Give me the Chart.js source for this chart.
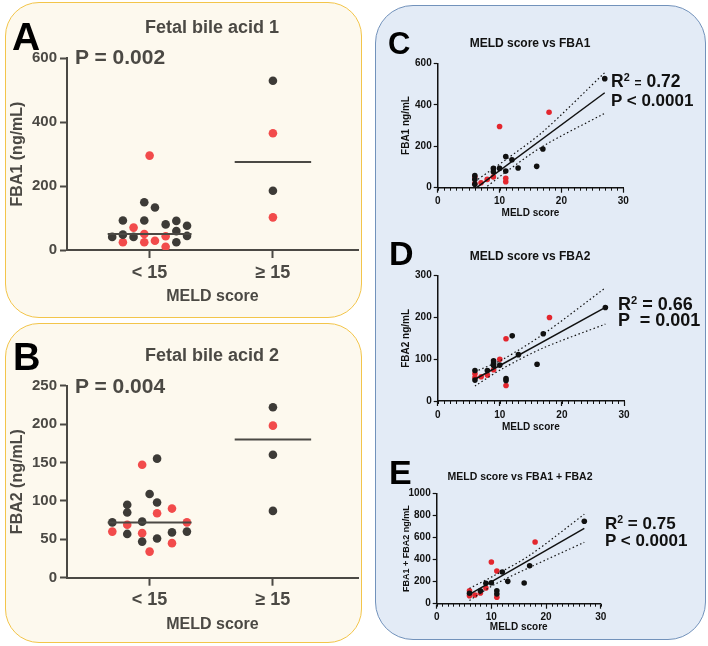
<!DOCTYPE html>
<html><head><meta charset="utf-8">
<script src="https://cdn.jsdelivr.net/npm/chart.js@4.4.1/dist/chart.umd.min.js"></script>
<style>
body{margin:0;width:708px;height:646px;position:relative;background:#fff;overflow:hidden;font-family:"Liberation Sans",Arial,sans-serif;font-weight:bold}
.panel{position:absolute;box-sizing:border-box}
canvas{position:absolute}
.t{position:absolute;white-space:nowrap;line-height:1;font-weight:bold}
.c{text-align:center}
.sup{font-size:0.62em;position:relative;top:-0.55em}
</style></head><body>
<div class="panel" style="left:5px;top:2px;width:357px;height:316px;border:1.5px solid #f3c54a;background:#fdf9ee;border-radius:34px"></div>
<div class="panel" style="left:5px;top:323px;width:357px;height:320px;border:1.5px solid #f3c54a;background:#fdf9ee;border-radius:34px"></div>
<div class="panel" style="left:375px;top:5px;width:331px;height:635px;border:1.5px solid #7292bb;background:#e3ebf6;border-radius:38px"></div>

<canvas id="cA" width="365" height="320" style="left:0;top:0"></canvas>
<canvas id="cB" width="365" height="326" style="left:0;top:320px"></canvas>
<canvas id="cC" width="328" height="225" style="left:380px;top:0"></canvas>
<canvas id="cD" width="328" height="215" style="left:380px;top:225px"></canvas>
<canvas id="cE" width="328" height="206" style="left:380px;top:440px"></canvas>

<div class="t" style="left:12px;top:17px;font-size:39px;color:#000">A</div>
<div class="t c" style="left:112px;top:18px;width:200px;font-size:18px;color:#4b4944">Fetal bile acid 1</div>
<div class="t" style="left:75px;top:46px;font-size:21px;color:#4b4944">P = 0.002</div>

<div class="t" style="left:13px;top:338px;font-size:38px;color:#000">B</div>
<div class="t c" style="left:112px;top:346px;width:200px;font-size:18px;color:#4b4944">Fetal bile acid 2</div>
<div class="t" style="left:75px;top:375px;font-size:21px;color:#4b4944">P = 0.004</div>

<div class="t" style="left:388px;top:28px;font-size:31px;color:#000">C</div>
<div class="t c" style="left:430px;top:37px;width:200px;font-size:12px;color:#111">MELD score vs FBA1</div>
<div class="t" style="left:611px;top:73px;font-size:17.5px;color:#111">R<span class="sup">2</span> <span style="font-size:12px">=</span> 0.72</div>
<div class="t" style="left:611px;top:92px;font-size:17px;color:#111">P &lt; 0.0001</div>

<div class="t" style="left:389px;top:236px;font-size:34px;color:#000">D</div>
<div class="t c" style="left:430px;top:250px;width:200px;font-size:12px;color:#111">MELD score vs FBA2</div>
<div class="t" style="left:618px;top:295px;font-size:18px;color:#111">R<span class="sup">2</span> = 0.66</div>
<div class="t" style="left:618px;top:311px;font-size:18px;color:#111;white-space:pre">P  = 0.001</div>

<div class="t" style="left:389px;top:455px;font-size:34px;color:#000">E</div>
<div class="t c" style="left:420px;top:471px;width:200px;font-size:10.5px;color:#111">MELD score vs FBA1 + FBA2</div>
<div class="t" style="left:605px;top:515px;font-size:17px;color:#111">R<span class="sup">2</span> = 0.75</div>
<div class="t" style="left:605px;top:532px;font-size:17px;color:#111">P &lt; 0.0001</div>

<script>
// ---------- DATA ----------
const categories = ['< 15', '\u2265 15'];

// Panel A: FBA1 (ng/mL) by MELD group
const fba1LowBlack = [41, 92, 48, 41, 149, 92, 133, 80, 91, 59, 24, 76, 44];
const fba1LowBlackJitter = [-3.5, -2.5, -2.5, -1.5, -0.5, -0.5, 0.5, 1.5, 2.5, 2.5, 2.5, 3.5, 3.5];
const fba1LowRed = [24, 70, 50, 24, 295, 29, 43, 10];
const fba1LowRedJitter = [-2.5, -1.5, -0.5, -0.5, 0, 0.5, 1.5, 1.5];
const fba1HighBlack = [529, 185];
const fba1HighRed = [365, 102];
const fba1Medians = [50, 275];

// Panel B: FBA2 (ng/mL) by MELD group
const fba2LowBlack = [72, 95, 85, 57, 73, 47, 109, 155, 98, 51, 59, 60];
const fba2LowBlackJitter = [-2.5, -1.5, -1.5, -1.5, -0.5, -0.5, 0, 0.5, 0.5, 0.5, 1.5, 2.5];
const fba2LowRed = [60, 69, 147, 58, 34, 84, 90, 45, 72];
const fba2LowRedJitter = [-2.5, -1.5, -0.5, -0.5, 0, 0.5, 1.5, 1.5, 2.5];
const fba2HighBlack = [222, 160, 87];
const fba2HighRed = [198];
const fba2Medians = [72, 180];

// Panel C: MELD score vs FBA1 [MELD, ng/mL]
const meldFba1Black = [[27,526],[17,187],[11,150],[12,135],[16,103],[13,95],[10,93],[9,93],[9,77],[11,80],[6,58],[6,40],[6,17]];
const meldFba1Red = [[18,364],[10,295],[9,52],[8,40],[11,45],[11,29],[7,24],[6,52],[6,20]];
const fitFba1 = [[6,-6],[27,458]];
const fitFba1Upper = [[6,30],[11,135],[17,270],[27,555]];
const fitFba1Lower = [[6,-40],[11,75],[17,200],[27,359]];

// Panel D: MELD score vs FBA2
const meldFba2Black = [[27,224],[17,161],[12,156],[13,111],[10,86],[16,88],[9,96],[9,90],[9,85],[8,73],[6,73],[6,50],[11,54],[11,49]];
const meldFba2Red = [[18,200],[11,149],[10,100],[9,75],[8,62],[7,58],[6,65],[6,56],[11,37]];
const fitFba2 = [[6,52],[27,224]];
const fitFba2Upper = [[6,70],[10.5,100],[17,160],[27,271]];
const fitFba2Lower = [[6,36],[10.5,78],[17,127],[27,184]];

// Panel E: MELD score vs FBA1 + FBA2
const meldSumBlack = [[27,749],[17,345],[12,288],[13,203],[16,188],[9,185],[10,190],[8,118],[11,118],[11,88],[6,95]];
const meldSumRed = [[18,561],[10,379],[11,297],[9,143],[8,97],[7,79],[6,118],[6,73],[11,58]];
const fitSum = [[6,85],[27,685]];
const fitSumUpper = [[6,140],[10.5,255],[17,440],[27,813]];
const fitSumLower = [[6,30],[10.5,172],[17,330],[27,558]];

// ---------- RENDERING ----------
Chart.defaults.font.family = '"Liberation Sans", Arial, sans-serif';
Chart.defaults.font.weight = 'bold';

const minorTicks = {
  id: 'minorTicks',
  afterDraw(chart, args, opts) {
    if (!opts || !opts.step) return;
    const xs = chart.scales.x, ctx = chart.ctx, y0 = chart.chartArea.bottom;
    ctx.save(); ctx.strokeStyle = opts.color; ctx.lineWidth = 1;
    for (let v = xs.min; v <= xs.max + 1e-9; v += opts.step) {
      const px = Math.round(xs.getPixelForValue(v)) + 0.5;
      ctx.beginPath(); ctx.moveTo(px, y0); ctx.lineTo(px, y0 + opts.len); ctx.stroke();
    }
    ctx.restore();
  }
};

function build(id, box, area, xOpts, yOpts, datasets, plugOpts) {
  const xh = box.top + box.height - area.bottom;
  const yw = area.left - box.left;
  xOpts.afterFit = s => { s.height = xh; };
  yOpts.afterFit = s => { s.width = yw; };
  return new Chart(document.getElementById(id), {
    type: 'scatter',
    data: { datasets },
    options: {
      responsive: false, animation: false, devicePixelRatio: 1,
      layout: { padding: { left: 0, bottom: 0, top: area.top - box.top, right: box.left + box.width - area.right } },
      plugins: Object.assign({ legend: { display: false }, tooltip: { enabled: false } }, plugOpts || {}),
      scales: { x: xOpts, y: yOpts }
    },
    plugins: [minorTicks]
  });
}

function pts(vals, jit, center, step) { return vals.map((v, i) => ({ x: center + (jit ? jit[i] * step : 0), y: v })); }
function xy(arr) { return arr.map(p => ({ x: p[0], y: p[1] })); }

const gA = '#4b4944', redA = '#f24b4b', darkA = '#3d3b37';

function catAxis(titlePadBottom) {
  return {
    type: 'linear', min: 0.33, max: 2.69,
    afterBuildTicks: s => { s.ticks = [{ value: 1 }, { value: 2 }]; },
    ticks: { callback: v => categories[Math.round(v) - 1], color: gA, font: { size: 18 }, padding: 4, maxRotation: 0 },
    grid: { drawOnChartArea: false, drawTicks: true, tickLength: 8, tickColor: gA, tickWidth: 2 },
    border: { color: gA, width: 2 },
    title: { display: true, text: 'MELD score', color: gA, font: { size: 16 }, padding: { top: 0, bottom: titlePadBottom } }
  };
}
function valAxis(max, step, text) {
  return {
    min: 0, max: max,
    ticks: { stepSize: step, color: gA, font: { size: 15 }, padding: 3, callback: v => String(v) },
    grid: { drawOnChartArea: false, drawTicks: true, tickLength: 7, tickColor: gA, tickWidth: 2 },
    border: { color: gA, width: 2 },
    title: { display: true, text: text, color: gA, font: { size: 16 }, padding: { top: 8, bottom: 0 } }
  };
}
function medianLines(meds) {
  return [
    { type: 'line', data: [{ x: 1 - 0.34, y: meds[0] }, { x: 1 + 0.34, y: meds[0] }], borderColor: gA, borderWidth: 2, pointRadius: 0 },
    { type: 'line', data: [{ x: 2 - 0.31, y: meds[1] }, { x: 2 + 0.31, y: meds[1] }], borderColor: gA, borderWidth: 2, pointRadius: 0 }
  ];
}
const dotA = c => ({ backgroundColor: c, borderWidth: 0, pointRadius: 4.3 });

// Panel A
build('cA', { left: 0, top: 0, width: 365, height: 320 }, { left: 67, top: 58, right: 358, bottom: 250 },
  catAxis(13.4), valAxis(600, 200, 'FBA1 (ng/mL)'),
  [
    ...medianLines(fba1Medians),
    Object.assign({ data: pts(fba1LowBlack, fba1LowBlackJitter, 1, 0.0867) }, dotA(darkA)),
    Object.assign({ data: pts(fba1LowRed, fba1LowRedJitter, 1, 0.0867) }, dotA(redA)),
    Object.assign({ data: pts(fba1HighBlack, null, 2, 0) }, dotA(darkA)),
    Object.assign({ data: pts(fba1HighRed, null, 2, 0) }, dotA(redA))
  ]);

// Panel B
build('cB', { left: 0, top: 320, width: 365, height: 326 }, { left: 67, top: 385.7, right: 358, bottom: 577.7 },
  catAxis(11.4), valAxis(250, 50, 'FBA2 (ng/mL)'),
  [
    ...medianLines(fba2Medians),
    Object.assign({ data: pts(fba2LowBlack, fba2LowBlackJitter, 1, 0.121) }, dotA(darkA)),
    Object.assign({ data: pts(fba2LowRed, fba2LowRedJitter, 1, 0.121) }, dotA(redA)),
    Object.assign({ data: pts(fba2HighBlack, null, 2, 0) }, dotA(darkA)),
    Object.assign({ data: pts(fba2HighRed, null, 2, 0) }, dotA(redA))
  ]);

// Panels C-E
const ink = '#111', redC = '#e3262e';
function meldAxis(padBottom) {
  return {
    type: 'linear', min: 0, max: 30,
    ticks: { stepSize: 10, color: ink, font: { size: 10 }, padding: 3, maxRotation: 0 },
    grid: { drawOnChartArea: false, drawTicks: true, tickLength: 5, tickColor: ink, tickWidth: 1.2 },
    border: { color: ink, width: 1.5 },
    title: { display: true, text: 'MELD score', color: ink, font: { size: 10 }, padding: { top: 0, bottom: padBottom } }
  };
}
function concAxis(max, step, text, size, padTop) {
  return {
    min: 0, max: max,
    ticks: { stepSize: step, color: ink, font: { size: 10 }, padding: 2, callback: v => String(v) },
    grid: { drawOnChartArea: false, drawTicks: true, tickLength: 4, tickColor: ink, tickWidth: 1.2 },
    border: { color: ink, width: 1.5 },
    title: { display: true, text: text, color: ink, font: { size: size }, padding: { top: padTop, bottom: 0 } }
  };
}
function regSets(black, red, fit, up, lo) {
  const dotted = d => ({ type: 'line', data: xy(d), borderColor: ink, borderWidth: 1.2, borderDash: [1.5, 2.5], pointRadius: 0, tension: 0.3 });
  return [
    dotted(up), dotted(lo),
    { type: 'line', data: xy(fit), borderColor: ink, borderWidth: 1.5, pointRadius: 0 },
    { data: xy(black), backgroundColor: ink, borderWidth: 0, pointRadius: 2.8 },
    { data: xy(red), backgroundColor: redC, borderWidth: 0, pointRadius: 2.8 }
  ];
}
const minor = { minorTicks: { step: 1, len: 3, color: ink } };

build('cC', { left: 380, top: 0, width: 328, height: 225 }, { left: 437.7, top: 63.3, right: 623.3, bottom: 187.7 },
  meldAxis(5.7), concAxis(600, 200, 'FBA1 ng/mL', 10, 20.7),
  regSets(meldFba1Black, meldFba1Red, fitFba1, fitFba1Upper, fitFba1Lower), minor);

build('cD', { left: 380, top: 225, width: 328, height: 215 }, { left: 437.7, top: 275.7, right: 624, bottom: 401 },
  meldAxis(7), concAxis(300, 100, 'FBA2 ng/mL', 10, 20.7),
  regSets(meldFba2Black, meldFba2Red, fitFba2, fitFba2Upper, fitFba2Lower), minor);

build('cE', { left: 380, top: 440, width: 328, height: 206 }, { left: 436.7, top: 493.7, right: 600.7, bottom: 603.7 },
  meldAxis(13), concAxis(1000, 200, 'FBA1 + FBA2 ng/mL', 9, 21.3),
  regSets(meldSumBlack, meldSumRed, fitSum, fitSumUpper, fitSumLower), minor);
</script>
</body></html>
